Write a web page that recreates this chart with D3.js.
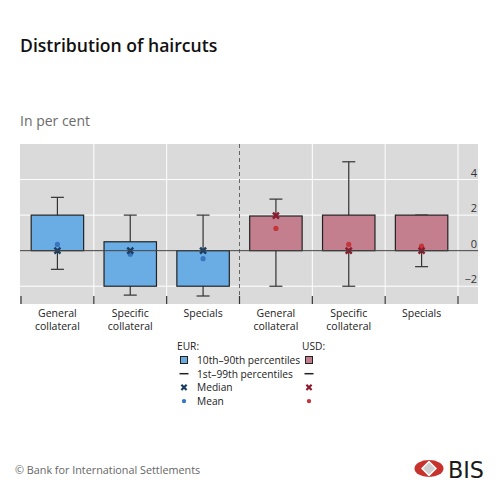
<!DOCTYPE html>
<html>
<head>
<meta charset="utf-8">
<script src="https://cdn.jsdelivr.net/npm/d3@7"></script>
<style>
  body { margin: 0; background: #fff; }
  svg { font-family: "Open Sans", sans-serif; }
</style>
</head>
<body>
<div id="chart"></div>
<script>
// data
const categories = ["General collateral", "Specific collateral", "Specials"];
const currencies = ["EUR", "USD"];
const p10 = { EUR: [0, -2, -2], USD: [0, 0, 0] };
const p90 = { EUR: [2, 0.5, 0], USD: [1.95, 2, 2] };
const p1 = { EUR: [-1.05, -2.5, -2.55], USD: [-2, -2, -0.9] };
const p99 = { EUR: [3, 2, 2], USD: [2.9, 5, 2] };
const medians = { EUR: [0, 0, 0], USD: [1.97, 0, 0] };
const means = { EUR: [0.35, -0.2, -0.45], USD: [1.25, 0.35, 0.25] };
const yTicks = [-2, 0, 2, 4];
const legendRows = ["10th–90th percentiles", "1st–99th percentiles", "Median", "Mean"];

const colors = {
    EUR: { box: "#6aade4", median: "#1a3d63", mean: "#3a76c0" },
    USD: { box: "#c47f8e", median: "#8c1a2c", mean: "#c5363a" }
};

const width = 500, height = 500;
const plot = { left: 20, right: 478, top: 144, bottom: 304 };

const rows = [];
currencies.forEach(c => categories.forEach((cat, i) => {
    rows.push({
        key: c + "|" + cat, cur: c, cat: cat,
        lo: p10[c][i], hi: p90[c][i], min: p1[c][i], max: p99[c][i],
        med: medians[c][i], mean: means[c][i]
    });
}));

const x = d3.scaleBand()
    .domain(rows.map(d => d.key))
    .range([21, 458])
    .paddingInner(0);

const y = d3.scaleLinear()
    .domain([-3, 6])
    .range([plot.bottom, plot.top]);

const svg = d3.select("#chart")
    .append("svg")
    .attr("width", width)
    .attr("height", height);

// titles
svg.append("text")
    .attr("x", 20).attr("y", 52)
    .attr("font-size", 17.6)
    .attr("font-weight", 600)
    .attr("fill", "#111")
    .text("Distribution of haircuts");

svg.append("text")
    .attr("x", 20).attr("y", 126)
    .attr("font-size", 14)
    .attr("fill", "#6b6b6b")
    .text("In per cent");

// plot background
svg.append("rect")
    .attr("x", plot.left).attr("y", plot.top)
    .attr("width", plot.right - plot.left)
    .attr("height", plot.bottom - plot.top)
    .attr("fill", "#dadada");

// horizontal grid
svg.append("g")
    .selectAll("line")
    .data(yTicks.filter(t => t !== 0))
    .join("line")
    .attr("x1", plot.left).attr("x2", plot.right)
    .attr("y1", d => y(d)).attr("y2", d => y(d))
    .attr("stroke", "#fff")
    .attr("stroke-width", 1);

// vertical grid at band boundaries
const bounds = rows.map(d => x(d.key)).concat([x.range()[1]]);
svg.append("g")
    .selectAll("line")
    .data(bounds.filter((b, i) => i !== 0 && i !== 3))
    .join("line")
    .attr("x1", d => d).attr("x2", d => d)
    .attr("y1", plot.top).attr("y2", plot.bottom)
    .attr("stroke", "#fff")
    .attr("stroke-width", 1);

// separator between currencies
svg.append("line")
    .attr("x1", bounds[3]).attr("x2", bounds[3])
    .attr("y1", plot.top).attr("y2", plot.bottom)
    .attr("stroke", "#666")
    .attr("stroke-width", 1)
    .attr("stroke-dasharray", "4,3");

// y axis labels on the right, inside the panel
svg.append("g")
    .selectAll("text")
    .data(yTicks)
    .join("text")
    .attr("x", 477)
    .attr("y", d => y(d) - 3)
    .attr("text-anchor", "end")
    .attr("font-size", 11)
    .attr("fill", "#333")
    .text(d => d < 0 ? "\u2212" + Math.abs(d) : d);

// bottom ticks
svg.append("g")
    .selectAll("line")
    .data(bounds)
    .join("line")
    .attr("x1", d => d).attr("x2", d => d)
    .attr("y1", plot.bottom - 8).attr("y2", plot.bottom)
    .attr("stroke", "#333")
    .attr("stroke-width", 1.2);

// boxes
const boxW = x.bandwidth() * 0.72;
const capW = 13;
const g = svg.append("g")
    .selectAll("g")
    .data(rows)
    .join("g")
    .attr("transform", d => `translate(${x(d.key) + x.bandwidth() / 2},0)`);

g.append("line")
    .attr("x1", 0).attr("x2", 0)
    .attr("y1", d => y(d.max)).attr("y2", d => y(d.min))
    .attr("stroke", "#333").attr("stroke-width", 1.2);

g.append("line")
    .attr("x1", -capW / 2).attr("x2", capW / 2)
    .attr("y1", d => y(d.max)).attr("y2", d => y(d.max))
    .attr("stroke", "#333").attr("stroke-width", 1.2);

g.append("line")
    .attr("x1", -capW / 2).attr("x2", capW / 2)
    .attr("y1", d => y(d.min)).attr("y2", d => y(d.min))
    .attr("stroke", "#333").attr("stroke-width", 1.2);

g.append("rect")
    .attr("x", -boxW / 2)
    .attr("width", boxW)
    .attr("y", d => y(d.hi))
    .attr("height", d => y(d.lo) - y(d.hi))
    .attr("fill", d => colors[d.cur].box)
    .attr("stroke", "#222")
    .attr("stroke-width", 1.2);

// zero line
svg.append("line")
    .attr("x1", plot.left).attr("x2", plot.right)
    .attr("y1", y(0)).attr("y2", y(0))
    .attr("stroke", "#444")
    .attr("stroke-width", 1);

const cross = s => `M${-s},${-s}L${s},${s}M${-s},${s}L${s},${-s}`;

g.append("circle")
    .attr("cy", d => y(d.mean))
    .attr("r", 2.6)
    .attr("fill", d => colors[d.cur].mean);

g.append("path")
    .attr("transform", d => `translate(0,${y(d.med)})`)
    .attr("d", cross(3))
    .attr("stroke", d => colors[d.cur].median)
    .attr("stroke-width", 2.4)
    .attr("fill", "none");

// category labels
const lab = svg.append("g")
    .selectAll("text")
    .data(rows)
    .join("text")
    .attr("x", d => x(d.key) + x.bandwidth() / 2)
    .attr("y", 317)
    .attr("text-anchor", "middle")
    .attr("font-size", 10.5)
    .attr("fill", "#222");
lab.each(function (d) {
    const parts = d.cat.split(" ");
    const t = d3.select(this);
    parts.forEach((p, i) => {
        t.append("tspan")
            .attr("x", x(d.key) + x.bandwidth() / 2)
            .attr("dy", i === 0 ? 0 : 12.5)
            .text(p);
    });
});

// legend
const legX = { EUR: 184, USD: 309 };
const legY0 = 360, legStep = 13.7;
svg.append("g")
    .selectAll("text")
    .data(currencies)
    .join("text")
    .attr("x", d => legX[d] - 7)
    .attr("y", 350)
    .attr("font-size", 10.2)
    .attr("fill", "#222")
    .text(d => d + ":");

svg.append("g")
    .selectAll("text")
    .data(legendRows)
    .join("text")
    .attr("x", 197)
    .attr("y", (d, i) => legY0 + i * legStep + 4)
    .attr("font-size", 10.2)
    .attr("fill", "#222")
    .text(d => d);

currencies.forEach(c => {
    const lg = svg.append("g").attr("transform", `translate(${legX[c]},0)`);
    lg.append("rect")
        .attr("x", -3.5).attr("y", legY0 - 3.5)
        .attr("width", 7).attr("height", 7)
        .attr("fill", colors[c].box)
        .attr("stroke", "#222").attr("stroke-width", 1);
    lg.append("line")
        .attr("x1", -4.5).attr("x2", 4.5)
        .attr("y1", legY0 + legStep).attr("y2", legY0 + legStep)
        .attr("stroke", "#222").attr("stroke-width", 1.5);
    lg.append("path")
        .attr("transform", `translate(0,${legY0 + legStep * 2})`)
        .attr("d", cross(2.6))
        .attr("stroke", colors[c].median)
        .attr("stroke-width", 2.2);
    lg.append("circle")
        .attr("cy", legY0 + legStep * 3)
        .attr("r", 2.2)
        .attr("fill", colors[c].mean);
});

// footer
svg.append("text")
    .attr("x", 15).attr("y", 474)
    .attr("font-size", 10.8)
    .attr("fill", "#666")
    .text("\u00a9 Bank for International Settlements");

const logo = svg.append("g").attr("transform", "translate(429,468.5)");
logo.append("ellipse")
    .attr("rx", 14.5).attr("ry", 8.5)
    .attr("fill", "#c8322c");
logo.append("path")
    .attr("d", "M0,-8L8,0L0,8L-8,0Z")
    .attr("fill", "#fff");
logo.append("path")
    .attr("d", "M0,-6L6,0L0,6L-6,0Z")
    .attr("fill", "#cfcfcf");
svg.append("text")
    .attr("x", 448).attr("y", 478)
    .attr("font-size", 23)
    .attr("font-family", "'Liberation Sans Narrow', 'DejaVu Sans Condensed', sans-serif")
    .attr("fill", "#1a1a1a")
    .attr("textLength", 36)
    .attr("lengthAdjust", "spacingAndGlyphs")
    .text("BIS");
</script>
</body>
</html>
